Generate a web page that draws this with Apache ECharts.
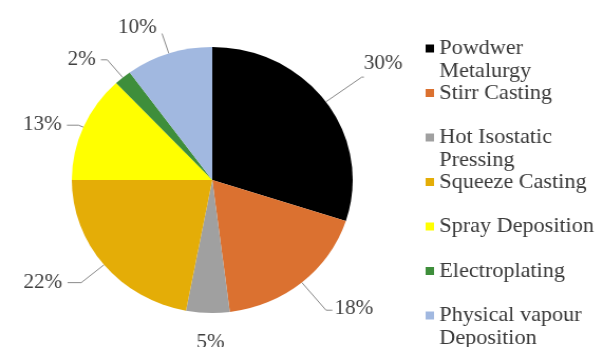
<!DOCTYPE html>
<html>
<head>
<meta charset="utf-8">
<script src="https://cdn.jsdelivr.net/npm/echarts@6/dist/echarts.min.js"></script>
<style>
  html, body { margin: 0; padding: 0; background: #ffffff; overflow: hidden; }
  /* the figure is drawn slightly wider than tall */
  #chart { width: 571px; height: 347px; transform: scaleX(1.056); transform-origin: 0 0; }
</style>
</head>
<body>
<div id="chart"></div>
<script>
// Share of each fabrication route (%)
const categories = ['Powdwer Metalurgy', 'Stirr Casting', 'Hot Isostatic Pressing', 'Squeeze Casting', 'Spray Deposition', 'Electroplating', 'Physical vapour Deposition'];
const shares = [30, 18, 5, 22, 13, 2, 10];
// how each legend entry wraps
const legendLines = [['Powdwer', 'Metalurgy'], ['Stirr Casting'], ['Hot Isostatic', 'Pressing'], ['Squeeze Casting'], ['Spray Deposition'], ['Electroplating'], ['Physical vapour', 'Deposition']];

const sliceColors = ['#000000', '#db7130', '#a0a0a0', '#e4ad07', '#ffff00', '#3e8e3b', '#a1b8e0'];
// leader line: [radial segment, horizontal segment]
const leaderLengths = [[42, 2], [36, 6], [14, 0], [28, 13], [5, 11], [23, 6], [21, 0]];
// small shifts of the percentage text away from the leader end
const labelNudge = [[-5, -13], [-3, -1], [8, 16], [0, 0], [0, 0], [0, 0], [0, -6]];

const serif = 'Liberation Serif';

const chart = echarts.init(document.getElementById('chart'), null, { renderer: 'canvas' });

const seriesData = categories.map((name, i) => ({
  name: name,
  value: shares[i],
  itemStyle: { color: sliceColors[i] },
  labelLine: { show: i !== 2, length: leaderLengths[i][0], length2: leaderLengths[i][1] }
}));

chart.setOption({
  backgroundColor: '#ffffff',
  animation: false,
  legend: {
    orient: 'vertical',
    left: 398,
    top: 9,
    height: 600,
    itemWidth: 8,
    itemHeight: 8,
    itemGap: -24.5,
    icon: 'rect',
    data: categories,
    formatter: function (name) {
      const lines = legendLines[categories.indexOf(name)];
      return ' \n' + lines[0] + '\n' + (lines[1] || ' ');
    },
    textStyle: {
      fontFamily: serif,
      fontSize: 21,
      lineHeight: 23,
      color: '#3a3a3a'
    }
  },
  series: [{
    type: 'pie',
    center: [201, 180],
    radius: 133,
    startAngle: 90,
    clockwise: true,
    avoidLabelOverlap: false,
    data: seriesData,
    label: {
      show: true,
      formatter: '{c}%',
      fontFamily: serif,
      fontSize: 20,
      color: '#404040'
    },
    labelLine: {
      lineStyle: { color: '#8a8a8a', width: 1 }
    },
    labelLayout: function (params) {
      const n = labelNudge[params.dataIndex];
      const out = { dx: n[0], dy: n[1] };
      if (params.labelLinePoints) out.labelLinePoints = params.labelLinePoints;
      if (params.dataIndex === 2) out.align = 'center';
      return out;
    },
    emphasis: { disabled: true }
  }]
});
</script>
</body>
</html>
